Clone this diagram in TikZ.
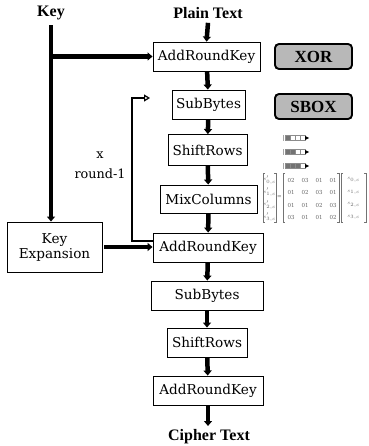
\documentclass[tikz,border=0pt]{standalone}
\usepackage{fontspec}
\setmainfont{DejaVu Serif}
\newfontfamily\labfont{Liberation Serif}
\usetikzlibrary{arrows.meta}
\begin{document}
\begin{tikzpicture}[x=1pt,y=-1pt,
  box/.style={draw, line width=0.9pt, inner sep=0pt, font=\fontsize{13.6}{15}\selectfont, align=center, minimum height=29pt},
  lab/.style={font=\labfont\bfseries\fontsize{16}{17}\selectfont, inner sep=0pt},
  flow/.style={line width=4.5pt, -{Triangle[width=8pt,length=5pt]}},
  loopline/.style={line width=1.2pt, -{Triangle[open,width=7pt,length=6pt]}},
  legend/.style={draw, line width=1.9pt, rounded corners=4pt, fill=black!28, minimum width=77pt, minimum height=25pt, inner sep=0pt, font=\labfont\bfseries\fontsize{17}{18}\selectfont},
  note/.style={font=\fontsize{12.8}{14}\selectfont, inner sep=0pt},
  ent/.style={inner sep=0pt, text=black!60, font=\fontsize{5.5}{6}\selectfont},
  brk/.style={draw=black!55, line width=0.5pt}
]
\useasboundingbox (0,0) rectangle (368,446);

% labels
\node[lab] (key) at (51,13) {Key};
\node[lab] (pt) at (208,13) {Plain Text};
\node[lab] (ct) at (209,437) {Cipher Text};

% boxes
\node[box, minimum width=107pt] (ark1) at (206.5,56.5) {AddRoundKey};
\node[box, minimum width=73pt] (sb1) at (208.5,104.5) {SubBytes};
\node[box, minimum width=79pt, minimum height=31pt] (sr1) at (207.5,150) {ShiftRows};
\node[box, minimum width=97pt, minimum height=28pt] (mc) at (208.5,199) {MixColumns};
\node[box, minimum width=110pt] (ark2) at (208,247.5) {AddRoundKey};
\node[box, minimum width=95pt, minimum height=50pt] (ke) at (54.5,247) {Key\\Expansion};
\node[box, minimum width=112pt] (sb2) at (207,295.5) {SubBytes};
\node[box, minimum width=80pt] (sr2) at (207,342.5) {ShiftRows};
\node[box, minimum width=110pt] (ark3) at (208,390.5) {AddRoundKey};

% round note
\node[note] (nx) at (100,155) {x};
\node[note] (nr) at (100,174) {round-1};

% main flow
\draw[flow] ([yshift=-4pt]pt.south) -- (ark1.north);
\draw[flow] (ark1) -- (sb1);
\draw[flow] (sb1) -- (sr1);
\draw[flow] (sr1) -- (mc);
\draw[flow] (mc) -- (ark2);
\draw[flow] (ark2) -- (sb2);
\draw[flow] (sb2) -- (sr2);
\draw[flow] (sr2) -- (ark3);
\coordinate (ctop) at (208,426);
\draw[flow] (ark3.south) -- (ctop);

% key path
\coordinate (kb) at (key.south |- ark1.west);
\draw[line width=4.5pt] ([yshift=-5pt]key.south) -- (kb);
\draw[flow] ([yshift=-5pt]key.south) -- (key.south |- ke.north);
\draw[flow] (kb) -- (ark1.west);
\draw[flow] ([xshift=2pt]ke.east) -- (ke.east -| ark2.west);

% loop
\coordinate (lpTop) at (132,98);
\coordinate (lpEnd) at (150,98);
\draw[loopline] ([yshift=6.5pt]ark2.west) -| (lpTop) -- (lpEnd);

% legend
\node[legend] (xor) at (313.5,56.5) {XOR};
\node[legend] (sbox) at (313.5,106.5) {SBOX};

% shift rows icon
\foreach \r/\k in {0/1,1/2,2/3}{
  \begin{scope}[yshift={-(138+14*\r)*1pt}]
    \draw[black!35, line width=0.5pt] (284,-2.5) -- (283,-2.5) -- (283,2.5) -- (284,2.5);
    \foreach \i in {0,1,2,3}{
      \pgfmathsetmacro{\shade}{\i<\k ? 55 : 0}
      \draw[black!45, line width=0.5pt, fill=black!\shade] (285+5*\i,-2.5) rectangle (290+5*\i,2.5);
    }
    \fill[black] (305,-2) -- (309,0) -- (305,2) -- cycle;
  \end{scope}
}

% mix columns matrix
\foreach \x/\w in {263/13, 283/56, 341/25}{
  \draw[brk] (\x+2,173) -- (\x,173) -- (\x,222) -- (\x+2,222);
  \draw[brk] (\x+\w-2,173) -- (\x+\w,173) -- (\x+\w,222) -- (\x+\w-2,222);
}
\node[ent] (eq) at (279.5,197.5) {=};
\foreach \r in {0,1,2,3}{
  \node[ent] (sl\r) at (269.5,180+12.5*\r) {$s'_{\r,c}$};
  \node[ent] (sr\r) at (353.5,180+12.5*\r) {$s_{\r,c}$};
}
\foreach \r/\a/\b/\c/\d in {0/02/03/01/01,1/01/02/03/01,2/01/01/02/03,3/03/01/01/02}{
  \node[ent] (m\r a) at (291,180+12.5*\r) {\a};
  \node[ent] (m\r b) at (305,180+12.5*\r) {\b};
  \node[ent] (m\r c) at (319,180+12.5*\r) {\c};
  \node[ent] (m\r d) at (333,180+12.5*\r) {\d};
}
\end{tikzpicture}
\end{document}
